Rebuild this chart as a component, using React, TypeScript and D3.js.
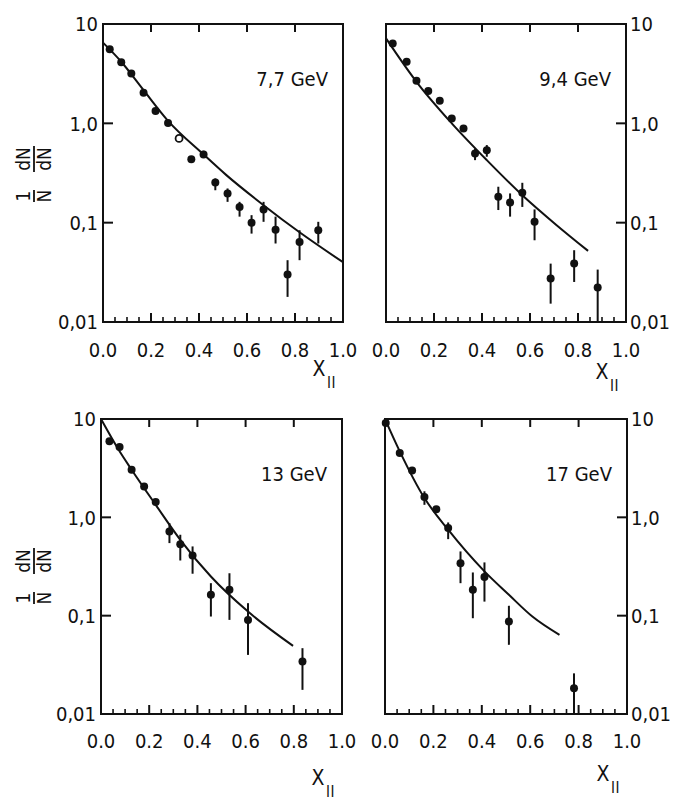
import React from "react";
import * as d3 from "d3";

// ---------- tick labels & text ----------
const xTicks = [0, 0.2, 0.4, 0.6, 0.8, 1.0];
const xTickLabels = ["0.0", "0.2", "0.4", "0.6", "0.8", "1.0"];
const yTicks = [10, 1, 0.1, 0.01];
const yTickLabels = ["10", "1,0", "0,1", "0,01"];
const energyLabels = ["7,7 GeV", "9,4 GeV", "13 GeV", "17 GeV"];

// ---------- 7.7 GeV ----------
const e77X = [0.028, 0.076, 0.118, 0.169, 0.219, 0.271, 0.317, 0.368, 0.419, 0.468, 0.519, 0.569, 0.619, 0.669, 0.719, 0.769, 0.819, 0.897];
const e77Y = [5.56, 4.11, 3.18, 2.03, 1.33, 1.01, 0.705, 0.436, 0.486, 0.254, 0.197, 0.144, 0.1, 0.136, 0.085, 0.03, 0.064, 0.084];
const e77Lo = [5.56, 4.11, 3.18, 2.03, 1.33, 1.01, 0.705, 0.41, 0.45, 0.212, 0.162, 0.115, 0.0776, 0.102, 0.0617, 0.0179, 0.0419, 0.0617];
const e77Hi = [5.56, 4.11, 3.18, 2.03, 1.33, 1.01, 0.705, 0.46, 0.53, 0.279, 0.221, 0.162, 0.119, 0.162, 0.115, 0.0419, 0.0839, 0.102];
const e77Open = [6];
const e77CurveX = [0, 0.076, 0.169, 0.271, 0.419, 0.514, 0.669, 0.819, 1.0];
const e77CurveY = [6.49, 4.17, 2.16, 1.06, 0.486, 0.301, 0.15, 0.08, 0.04];

// ---------- 9.4 GeV ----------
const e94X = [0.028, 0.086, 0.127, 0.176, 0.224, 0.274, 0.323, 0.371, 0.42, 0.468, 0.517, 0.568, 0.619, 0.686, 0.784, 0.882];
const e94Y = [6.38, 4.17, 2.69, 2.11, 1.69, 1.12, 0.889, 0.497, 0.537, 0.182, 0.16, 0.2, 0.102, 0.0274, 0.0387, 0.0222];
const e94Lo = [6.38, 4.17, 2.69, 2.11, 1.69, 1.12, 0.85, 0.426, 0.461, 0.134, 0.115, 0.144, 0.0665, 0.0153, 0.0253, 0.01];
const e94Hi = [6.38, 4.17, 2.69, 2.11, 1.69, 1.12, 0.93, 0.558, 0.604, 0.23, 0.197, 0.252, 0.136, 0.0387, 0.0528, 0.0337];
const e94Open: number[] = [];
const e94CurveX = [0, 0.127, 0.274, 0.42, 0.568, 0.706, 0.842];
const e94CurveY = [7.17, 2.62, 1.0, 0.426, 0.189, 0.0966, 0.052];

// ---------- 13 GeV ----------
const e13X = [0.035, 0.077, 0.127, 0.179, 0.227, 0.284, 0.329, 0.38, 0.456, 0.533, 0.61, 0.836];
const e13Y = [5.93, 5.19, 3.05, 2.06, 1.43, 0.718, 0.533, 0.409, 0.163, 0.183, 0.0906, 0.0341];
const e13Lo = [5.93, 5.19, 3.05, 2.06, 1.43, 0.547, 0.364, 0.267, 0.098, 0.0906, 0.0399, 0.0176];
const e13Hi = [5.93, 5.19, 3.05, 2.06, 1.43, 0.873, 0.665, 0.506, 0.214, 0.27, 0.134, 0.0467];
const e13Open: number[] = [];
const e13CurveX = [0, 0.077, 0.127, 0.227, 0.329, 0.456, 0.61, 0.797];
const e13CurveY = [10, 4.69, 3.05, 1.34, 0.591, 0.25, 0.11, 0.0493];

// ---------- 17 GeV ----------
const e17X = [0.003, 0.061, 0.112, 0.163, 0.212, 0.261, 0.312, 0.363, 0.411, 0.512, 0.781];
const e17Y = [9.1, 4.51, 3.0, 1.61, 1.21, 0.778, 0.342, 0.183, 0.247, 0.0871, 0.0183];
const e17Lo = [9.1, 4.51, 3.0, 1.34, 1.21, 0.6, 0.214, 0.0942, 0.139, 0.0505, 0.01];
const e17Hi = [9.1, 4.51, 3.0, 1.84, 1.21, 0.887, 0.45, 0.275, 0.348, 0.126, 0.0259];
const e17Open: number[] = [];
const e17CurveX = [0, 0.061, 0.163, 0.261, 0.411, 0.512, 0.609, 0.721];
const e17CurveY = [10, 4.69, 1.57, 0.748, 0.282, 0.163, 0.098, 0.0638];

const FONT = "'DejaVu Sans Condensed', 'DejaVu Sans', sans-serif";
const INK = "#111";

type PanelDef = {
  left: number; right: number; top: number; bottom: number;
  side: "left" | "right";
  label: string;
  xs: number[]; ys: number[]; lo: number[]; hi: number[]; open: number[];
  cx: number[]; cy: number[];
  xlabBase: number; xTitleBase: number;
};

const panels: PanelDef[] = [
  { left: 103, right: 343, top: 24, bottom: 322, side: "left", label: energyLabels[0],
    xs: e77X, ys: e77Y, lo: e77Lo, hi: e77Hi, open: e77Open, cx: e77CurveX, cy: e77CurveY, xlabBase: 357, xTitleBase: 376 },
  { left: 386, right: 626, top: 24, bottom: 322, side: "right", label: energyLabels[1],
    xs: e94X, ys: e94Y, lo: e94Lo, hi: e94Hi, open: e94Open, cx: e94CurveX, cy: e94CurveY, xlabBase: 357, xTitleBase: 379 },
  { left: 101, right: 342, top: 419, bottom: 714, side: "left", label: energyLabels[2],
    xs: e13X, ys: e13Y, lo: e13Lo, hi: e13Hi, open: e13Open, cx: e13CurveX, cy: e13CurveY, xlabBase: 748, xTitleBase: 785 },
  { left: 385, right: 627, top: 419, bottom: 714, side: "right", label: energyLabels[3],
    xs: e17X, ys: e17Y, lo: e17Lo, hi: e17Hi, open: e17Open, cx: e17CurveX, cy: e17CurveY, xlabBase: 748, xTitleBase: 781 },
];

const minorX = d3.range(1, 20).map((i) => i * 0.05);

function Panel({ p }: { p: PanelDef }) {
  const x = d3.scaleLinear().domain([0, 1]).range([p.left, p.right]);
  const y = d3.scaleLog().domain([0.01, 10]).range([p.bottom, p.top]);
  const line = d3
    .line<[number, number]>()
    .x((d) => x(d[0]))
    .y((d) => y(d[1]))
    .curve(d3.curveMonotoneX);
  const curvePts: [number, number][] = p.cx.map((v, i) => [v, p.cy[i]]);
  const axisX = p.side === "left" ? p.left : p.right;
  const dir = p.side === "left" ? 1 : -1;
  return (
    <g>
      <rect x={p.left} y={p.top} width={p.right - p.left} height={p.bottom - p.top}
        fill="none" stroke={INK} strokeWidth={2} />
      {/* top ticks */}
      {xTicks.slice(1, 5).map((t) => (
        <line key={"tt" + t} x1={x(t)} x2={x(t)} y1={p.top} y2={p.top + 8} stroke={INK} strokeWidth={2} />
      ))}
      {/* bottom ticks */}
      {minorX.map((t, i) => {
        const major = (i + 1) % 4 === 0;
        return (
          <line key={"bt" + i} x1={x(t)} x2={x(t)} y1={p.bottom} y2={p.bottom - (major ? 9 : 5)}
            stroke={INK} strokeWidth={major ? 2 : 1.6} />
        );
      })}
      {/* y ticks */}
      {yTicks.slice(1, 3).map((t) => (
        <line key={"yt" + t} x1={axisX} x2={axisX + dir * 10} y1={y(t)} y2={y(t)} stroke={INK} strokeWidth={2} />
      ))}
      {/* y tick labels */}
      {yTicks.map((t, i) => (
        <text key={"yl" + t} x={p.side === "left" ? p.left - 5 : p.right + 4} y={y(t)} dy="0.36em"
          textAnchor={p.side === "left" ? "end" : "start"} fontFamily={FONT} fontSize={20} fill={INK}>
          {yTickLabels[i]}
        </text>
      ))}
      {/* x tick labels */}
      {xTicks.map((t, i) => (
        <text key={"xl" + t} x={x(t)} y={p.xlabBase} textAnchor="middle" fontFamily={FONT} fontSize={20} fill={INK}>
          {xTickLabels[i]}
        </text>
      ))}
      {/* x title */}
      <text x={p.right - 24} y={p.xTitleBase} textAnchor="middle" fontFamily={FONT} fontSize={21} fill={INK}>X</text>
      <text x={p.right - 16} y={p.xTitleBase + 12} textAnchor="start" fontFamily={FONT} fontSize={15}
        fill={INK} letterSpacing={0.5}>II</text>
      {/* energy label */}
      <text x={p.right - 15} y={p.top + 62} textAnchor="end" fontFamily={FONT} fontSize={20} fill={INK}>
        {p.label}
      </text>
      {/* theory curve */}
      <path d={line(curvePts) || ""} fill="none" stroke={INK} strokeWidth={2} />
      {/* error bars */}
      {p.xs.map((v, i) =>
        p.hi[i] > p.lo[i] ? (
          <line key={"e" + i} x1={x(v)} x2={x(v)} y1={y(p.hi[i])} y2={y(p.lo[i])} stroke={INK} strokeWidth={2} />
        ) : null
      )}
      {/* points */}
      {p.xs.map((v, i) => {
        const isOpen = p.open.includes(i);
        return (
          <circle key={"p" + i} cx={x(v)} cy={y(p.ys[i])} r={isOpen ? 3.5 : 4}
            fill={isOpen ? "#fff" : INK} stroke={INK} strokeWidth={isOpen ? 1.8 : 0} />
        );
      })}
    </g>
  );
}

function YTitle({ cx, cy }: { cx: number; cy: number }) {
  // rotated fraction label: 1/N dN/dN
  return (
    <g transform={`translate(${cx},${cy}) rotate(-90)`} fontFamily={FONT} fontSize={19} fill={INK}>
      <text x={-18} y={-4} textAnchor="middle">1</text>
      <line x1={-24} x2={-12} y1={0} y2={0} stroke={INK} strokeWidth={1.8} />
      <text x={-18} y={17} textAnchor="middle">N</text>
      <text x={19} y={-4} textAnchor="middle">dN</text>
      <line x1={6} x2={32} y1={0} y2={0} stroke={INK} strokeWidth={1.8} />
      <text x={19} y={17} textAnchor="middle">dN</text>
    </g>
  );
}

export default function App() {
  return (
    <svg width={676} height={800} viewBox="0 0 676 800"
      style={{ position: "absolute", left: 0, top: 0, background: "#fff" }}>
      <rect x={0} y={0} width={676} height={800} fill="#fff" />
      {panels.map((p, i) => (
        <Panel key={i} p={p} />
      ))}
      <YTitle cx={34} cy={178} />
      <YTitle cx={34} cy={580} />
    </svg>
  );
}
